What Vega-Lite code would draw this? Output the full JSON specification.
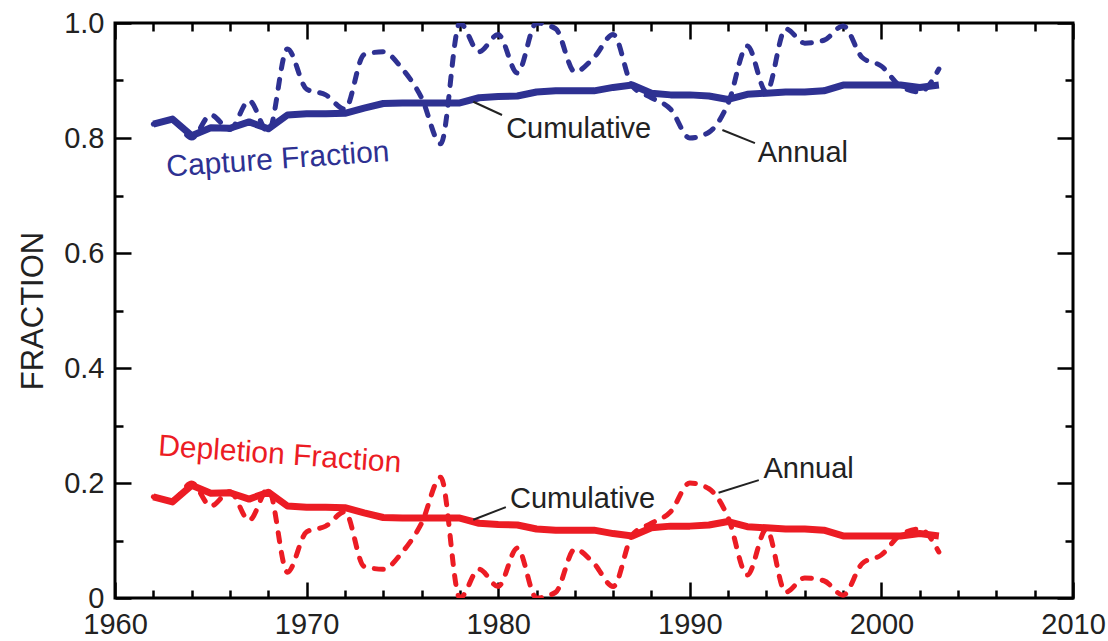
{
  "$schema": "https://vega.github.io/schema/vega-lite/v6.json",
  "width": 958,
  "height": 575,
  "autosize": {"type": "none"},
  "padding": {"left": 115, "top": 23, "right": 35, "bottom": 43},
  "background": "white",
  "config": {
    "view": {"stroke": "black", "strokeWidth": 3},
    "font": "Liberation Sans",
    "axis": {
      "grid": false,
      "domain": false,
      "tickColor": "black",
      "tickWidth": 2.5,
      "labelColor": "#222222",
      "labelFontSize": 29,
      "labelFont": "Liberation Sans",
      "labelFlush": false,
      "labelOverlap": false,
      "labelBound": false,
      "titleFont": "Liberation Sans",
      "titleFontWeight": "normal",
      "titleColor": "#222222"
    }
  },
  "datasets": {
    "series": [
      {"year": 1962, "capture_annual": 0.824, "capture_cum": 0.824, "depletion_annual": 0.176, "depletion_cum": 0.176},
      {"year": 1963, "capture_annual": 0.83, "capture_cum": 0.833, "depletion_annual": 0.17, "depletion_cum": 0.167},
      {"year": 1964, "capture_annual": 0.80, "capture_cum": 0.804, "depletion_annual": 0.20, "depletion_cum": 0.196},
      {"year": 1965, "capture_annual": 0.84, "capture_cum": 0.818, "depletion_annual": 0.16, "depletion_cum": 0.182},
      {"year": 1966, "capture_annual": 0.815, "capture_cum": 0.817, "depletion_annual": 0.185, "depletion_cum": 0.183},
      {"year": 1967, "capture_annual": 0.865, "capture_cum": 0.828, "depletion_annual": 0.135, "depletion_cum": 0.172},
      {"year": 1968, "capture_annual": 0.81, "capture_cum": 0.816, "depletion_annual": 0.19, "depletion_cum": 0.184},
      {"year": 1969, "capture_annual": 0.955, "capture_cum": 0.84, "depletion_annual": 0.045, "depletion_cum": 0.16},
      {"year": 1970, "capture_annual": 0.885, "capture_cum": 0.842, "depletion_annual": 0.115, "depletion_cum": 0.158},
      {"year": 1971, "capture_annual": 0.875, "capture_cum": 0.842, "depletion_annual": 0.125, "depletion_cum": 0.158},
      {"year": 1972, "capture_annual": 0.85, "capture_cum": 0.843, "depletion_annual": 0.15, "depletion_cum": 0.157},
      {"year": 1973, "capture_annual": 0.945, "capture_cum": 0.852, "depletion_annual": 0.055, "depletion_cum": 0.148},
      {"year": 1974, "capture_annual": 0.95, "capture_cum": 0.86, "depletion_annual": 0.05, "depletion_cum": 0.14},
      {"year": 1975, "capture_annual": 0.92, "capture_cum": 0.861, "depletion_annual": 0.08, "depletion_cum": 0.139},
      {"year": 1976, "capture_annual": 0.87, "capture_cum": 0.861, "depletion_annual": 0.13, "depletion_cum": 0.139},
      {"year": 1977, "capture_annual": 0.79, "capture_cum": 0.861, "depletion_annual": 0.21, "depletion_cum": 0.139},
      {"year": 1978, "capture_annual": 1.0, "capture_cum": 0.861, "depletion_annual": 0.0, "depletion_cum": 0.139},
      {"year": 1979, "capture_annual": 0.95, "capture_cum": 0.87, "depletion_annual": 0.05, "depletion_cum": 0.13},
      {"year": 1980, "capture_annual": 0.98, "capture_cum": 0.872, "depletion_annual": 0.02, "depletion_cum": 0.128},
      {"year": 1981, "capture_annual": 0.913, "capture_cum": 0.873, "depletion_annual": 0.087, "depletion_cum": 0.127},
      {"year": 1982, "capture_annual": 1.0, "capture_cum": 0.88, "depletion_annual": 0.0, "depletion_cum": 0.12},
      {"year": 1983, "capture_annual": 0.99, "capture_cum": 0.882, "depletion_annual": 0.01, "depletion_cum": 0.118},
      {"year": 1984, "capture_annual": 0.915, "capture_cum": 0.882, "depletion_annual": 0.085, "depletion_cum": 0.118},
      {"year": 1985, "capture_annual": 0.94, "capture_cum": 0.882, "depletion_annual": 0.06, "depletion_cum": 0.118},
      {"year": 1986, "capture_annual": 0.98, "capture_cum": 0.888, "depletion_annual": 0.02, "depletion_cum": 0.112},
      {"year": 1987, "capture_annual": 0.89, "capture_cum": 0.892, "depletion_annual": 0.11, "depletion_cum": 0.108},
      {"year": 1988, "capture_annual": 0.87, "capture_cum": 0.878, "depletion_annual": 0.13, "depletion_cum": 0.122},
      {"year": 1989, "capture_annual": 0.85, "capture_cum": 0.875, "depletion_annual": 0.15, "depletion_cum": 0.125},
      {"year": 1990, "capture_annual": 0.80, "capture_cum": 0.875, "depletion_annual": 0.20, "depletion_cum": 0.125},
      {"year": 1991, "capture_annual": 0.81, "capture_cum": 0.873, "depletion_annual": 0.19, "depletion_cum": 0.127},
      {"year": 1992, "capture_annual": 0.86, "capture_cum": 0.867, "depletion_annual": 0.14, "depletion_cum": 0.133},
      {"year": 1993, "capture_annual": 0.96, "capture_cum": 0.876, "depletion_annual": 0.04, "depletion_cum": 0.124},
      {"year": 1994, "capture_annual": 0.88, "capture_cum": 0.878, "depletion_annual": 0.12, "depletion_cum": 0.122},
      {"year": 1995, "capture_annual": 0.99, "capture_cum": 0.88, "depletion_annual": 0.01, "depletion_cum": 0.12},
      {"year": 1996, "capture_annual": 0.965, "capture_cum": 0.88, "depletion_annual": 0.035, "depletion_cum": 0.12},
      {"year": 1997, "capture_annual": 0.97, "capture_cum": 0.882, "depletion_annual": 0.03, "depletion_cum": 0.118},
      {"year": 1998, "capture_annual": 0.995, "capture_cum": 0.892, "depletion_annual": 0.005, "depletion_cum": 0.108},
      {"year": 1999, "capture_annual": 0.94, "capture_cum": 0.892, "depletion_annual": 0.06, "depletion_cum": 0.108},
      {"year": 2000, "capture_annual": 0.925, "capture_cum": 0.892, "depletion_annual": 0.075, "depletion_cum": 0.108},
      {"year": 2001, "capture_annual": 0.89, "capture_cum": 0.892, "depletion_annual": 0.11, "depletion_cum": 0.108},
      {"year": 2002, "capture_annual": 0.88, "capture_cum": 0.888, "depletion_annual": 0.12, "depletion_cum": 0.112},
      {"year": 2003, "capture_annual": 0.92, "capture_cum": 0.892, "depletion_annual": 0.08, "depletion_cum": 0.108}
    ],
    "blueNotes": [{"year": 1968.5, "value": 0.762, "text": "Capture Fraction"}],
    "redNotes": [{"year": 1968.6, "value": 0.249, "text": "Depletion Fraction"}],
    "blackNotes": [
      {"year": 1984.2, "value": 0.816, "text": "Cumulative"},
      {"year": 1995.9, "value": 0.774, "text": "Annual"},
      {"year": 1984.4, "value": 0.172, "text": "Cumulative"},
      {"year": 1996.2, "value": 0.224, "text": "Annual"}
    ],
    "leaders": [
      {"year": 1978.7, "year2": 1980.2, "value": 0.863, "value2": 0.84},
      {"year": 1991.7, "year2": 1993.4, "value": 0.814, "value2": 0.791},
      {"year": 1978.7, "year2": 1980.4, "value": 0.136, "value2": 0.158},
      {"year": 1991.5, "year2": 1993.6, "value": 0.183, "value2": 0.205}
    ]
  },
  "layer": [
    {
      "data": {"name": "series"},
      "mark": {"type": "line", "color": "#2E3192", "strokeWidth": 5, "strokeDash": [9, 11], "strokeCap": "round", "interpolate": "monotone", "clip": true},
      "encoding": {
        "x": {
          "field": "year", "type": "quantitative",
          "scale": {"domain": [1960, 2010], "nice": false, "zero": false},
          "axis": {
            "orient": "bottom", "title": null, "format": "d",
            "values": [1960, 1970, 1980, 1990, 2000, 2010],
            "offset": -16, "tickSize": 16,
            "labelPadding": 12
          }
        },
        "y": {
          "field": "capture_annual", "type": "quantitative",
          "scale": {"domain": [0, 1], "nice": false},
          "axis": {
            "orient": "left", "title": "FRACTION", "titleFontSize": 31, "titlePadding": 14,
            "values": [0, 0.2, 0.4, 0.6, 0.8, 1],
            "offset": -16, "tickSize": 16,
            "labelExpr": "datum.value === 0 ? '0' : format(datum.value, '.1f')",
            "labelPadding": 11
          }
        }
      }
    },
    {
      "data": {"name": "series"},
      "mark": {"type": "line", "color": "#2E3192", "strokeWidth": 7, "strokeJoin": "round", "clip": true},
      "encoding": {
        "x": {
          "field": "year", "type": "quantitative",
          "axis": {
            "orient": "bottom", "title": null, "labels": false,
            "values": [1962,1964,1966,1968,1972,1974,1976,1978,1982,1984,1986,1988,1992,1994,1996,1998,2002,2004,2006,2008],
            "offset": -8, "tickSize": 8
          }
        },
        "y": {
          "field": "capture_cum", "type": "quantitative",
          "axis": {
            "orient": "left", "title": null, "labels": false,
            "values": [0.1, 0.3, 0.5, 0.7, 0.9],
            "offset": -8, "tickSize": 8
          }
        }
      }
    },
    {
      "data": {"name": "series"},
      "mark": {"type": "line", "color": "#EC1C24", "strokeWidth": 5, "strokeDash": [9, 11], "strokeCap": "round", "interpolate": "monotone", "clip": true},
      "encoding": {
        "x": {
          "field": "year", "type": "quantitative",
          "axis": {
            "orient": "top", "title": null, "labels": false,
            "values": [1960, 1970, 1980, 1990, 2000, 2010],
            "offset": -16, "tickSize": 16
          }
        },
        "y": {
          "field": "depletion_annual", "type": "quantitative",
          "axis": {
            "orient": "right", "title": null, "labels": false,
            "values": [0, 0.2, 0.4, 0.6, 0.8, 1],
            "offset": -16, "tickSize": 16
          }
        }
      }
    },
    {
      "data": {"name": "series"},
      "mark": {"type": "line", "color": "#EC1C24", "strokeWidth": 7, "strokeJoin": "round", "clip": true},
      "encoding": {
        "x": {
          "field": "year", "type": "quantitative",
          "axis": {
            "orient": "top", "title": null, "labels": false,
            "values": [1962,1964,1966,1968,1972,1974,1976,1978,1982,1984,1986,1988,1992,1994,1996,1998,2002,2004,2006,2008],
            "offset": -8, "tickSize": 8
          }
        },
        "y": {
          "field": "depletion_cum", "type": "quantitative",
          "axis": {
            "orient": "right", "title": null, "labels": false,
            "values": [0.1, 0.3, 0.5, 0.7, 0.9],
            "offset": -8, "tickSize": 8
          }
        }
      }
    },
    {
      "data": {"name": "leaders"},
      "mark": {"type": "rule", "color": "#222222", "strokeWidth": 2},
      "encoding": {
        "x": {"field": "year", "type": "quantitative", "axis": null},
        "x2": {"field": "year2"},
        "y": {"field": "value", "type": "quantitative", "axis": null},
        "y2": {"field": "value2"}
      }
    },
    {
      "data": {"name": "blueNotes"},
      "mark": {"type": "text", "color": "#2E3192", "fontSize": 30, "angle": -4, "align": "center", "baseline": "middle"},
      "encoding": {
        "x": {"field": "year", "type": "quantitative", "axis": null},
        "y": {"field": "value", "type": "quantitative", "axis": null},
        "text": {"field": "text"}
      }
    },
    {
      "data": {"name": "redNotes"},
      "mark": {"type": "text", "color": "#EC1C24", "fontSize": 30, "angle": 4, "align": "center", "baseline": "middle"},
      "encoding": {
        "x": {"field": "year", "type": "quantitative", "axis": null},
        "y": {"field": "value", "type": "quantitative", "axis": null},
        "text": {"field": "text"}
      }
    },
    {
      "data": {"name": "blackNotes"},
      "mark": {"type": "text", "color": "#222222", "fontSize": 29, "align": "center", "baseline": "middle"},
      "encoding": {
        "x": {"field": "year", "type": "quantitative", "axis": null},
        "y": {"field": "value", "type": "quantitative", "axis": null},
        "text": {"field": "text"}
      }
    }
  ],
  "resolve": {"axis": {"x": "independent", "y": "independent"}}
}
